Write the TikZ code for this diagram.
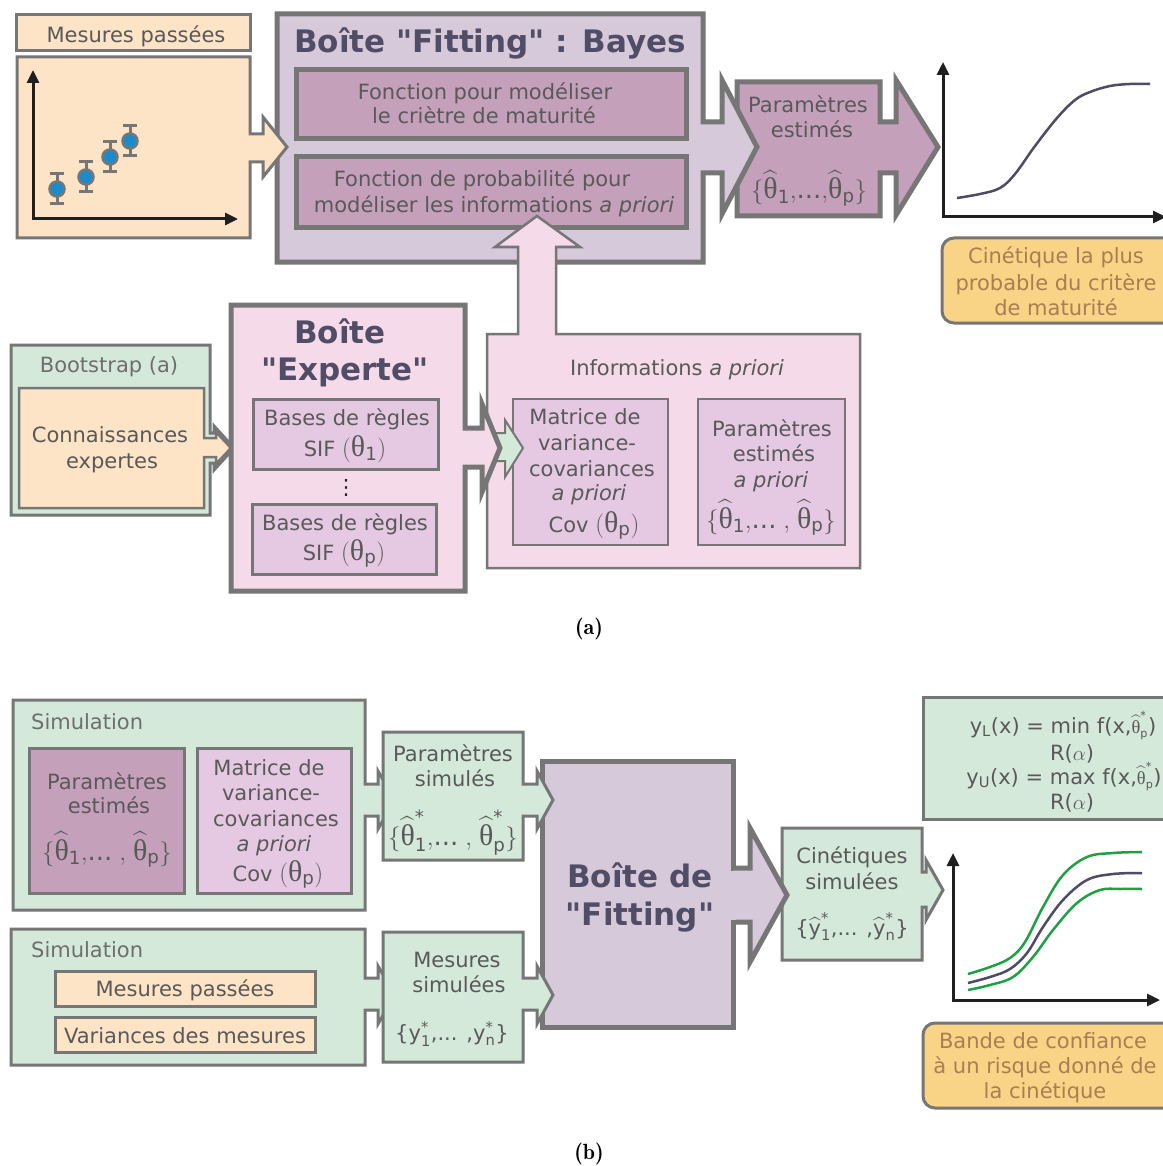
\documentclass[tikz,border=0pt]{standalone}
\usepackage{amsmath}
\usepackage{fontspec}
\newfontfamily\dv{DejaVu Sans}
\newfontfamily\lser{Liberation Serif}
\usetikzlibrary{arrows.meta}
\definecolor{bgray}{HTML}{767676}
\definecolor{peach}{HTML}{FDE4C7}
\definecolor{lmauve}{HTML}{D6C9D9}
\definecolor{dmauve}{HTML}{C4A0BA}
\definecolor{lpink}{HTML}{F5DAE9}
\definecolor{lpurple}{HTML}{E5C8E2}
\definecolor{lgreen}{HTML}{D4E9DA}
\definecolor{orangebox}{HTML}{F9D386}
\definecolor{txtgray}{HTML}{595959}
\definecolor{lblgray}{HTML}{6E6E6E}
\definecolor{titlec}{HTML}{514D66}
\definecolor{brownt}{HTML}{A87E52}
\definecolor{axisc}{HTML}{1F1F1F}
\definecolor{curvec}{HTML}{4F4B66}
\definecolor{greenc}{HTML}{1EA043}
\definecolor{dotblue}{HTML}{1B8CC9}
\newcommand\dq{\XeTeXglyph\XeTeXcharglyph"22\relax}
\newcommand\mth[1]{{\fontsize{26}{30}\selectfont$#1$}}
\newcommand\thx{\text{\lser\scalebox{1.15}{θ}}}
\newcommand\hth{\widehat{\thx}}
\tikzset{
 thickb/.style={draw=bgray,line width=5pt},
 thinb/.style={draw=bgray,line width=3pt},
 finb/.style={draw=bgray,line width=2.5pt},
 txt/.style={font=\dv\fontsize{21}{25}\selectfont,text=txtgray,inner sep=0pt,anchor=base},
 lbl/.style={txt,text=lblgray},
 ttl/.style={font=\dv\bfseries\fontsize{31}{37}\selectfont,text=titlec,inner sep=0pt,anchor=base},
 brn/.style={txt,text=brownt},
 capt/.style={font=\fontseries{b}\selectfont\fontsize{22}{26}\selectfont,text=black,inner sep=0pt,anchor=base},
 axis/.style={draw=axisc,line width=3pt,-{Triangle[length=13pt,width=12pt]}},
 errb/.style={draw=bgray,line width=3pt},
 dotp/.style={fill=dotblue,draw=bgray,line width=2.5pt},
 curve/.style={line width=2.5pt},
}
\begin{document}
\begin{tikzpicture}[x=1pt,y=-1pt,line join=miter]
\useasboundingbox (0,0) rectangle (1162,1166);
\fill[white] (0,0) rectangle (1162,1166);

%% ================= (a) =================
\draw[thinb,fill=peach] (16,15) rectangle (250,51);
\draw[thickb,fill=dmauve] (737,82) -- (880,82) -- (880,122) -- (896,122) -- (896,80) -- (938,147) -- (896,215) -- (896,173) -- (880,173) -- (880,216) -- (737,216) -- cycle;
\draw[thickb,fill=lmauve] (277,14) -- (703,14) -- (703,122) -- (722,122) -- (722,80) -- (757,147) -- (722,214) -- (722,173) -- (703,173) -- (703,262) -- (277,262) -- cycle;
\draw[thickb,fill=dmauve] (296,70) rectangle (686,139);
\draw[thickb,fill=dmauve] (296,157) rectangle (686,228);
\draw[thinb,fill=peach] (17,57) -- (250,57) -- (250,134) -- (263,134) -- (263,117) -- (287,147) -- (263,177) -- (263,162) -- (250,162) -- (250,238) -- (17,238) -- cycle;
\draw[axis] (33,219) -- (33,70);
\draw[axis] (31.5,219) -- (238,219);
\foreach \px/\py in {57/189,86/177,110/157,130/141}{
  \draw[errb] (\px,\py-15) -- (\px,\py+15);
  \draw[errb] (\px-7,\py-15) -- (\px+7,\py-15);
  \draw[errb] (\px-7,\py+15) -- (\px+7,\py+15);
  \filldraw[dotp] (\px,\py) circle (7.5pt);
}
\draw[finb,fill=lpink] (487,334) -- (518,334) -- (518,247) -- (495,247) -- (537,216) -- (580,247) -- (556,247) -- (556,334) -- (860,334) -- (860,568) -- (487,568) -- cycle;
\draw[finb,fill=lpurple] (513,399) rectangle (668,545);
\draw[finb,fill=lpurple] (698,399) rectangle (845,545);
\draw[draw=bgray,line width=2pt,fill=lgreen] (490,433) -- (505,433) -- (505,420) -- (523,448) -- (505,477) -- (505,461) -- (490,461) -- cycle;
\draw[thinb,fill=lgreen] (11,345) -- (210,345) -- (210,433) -- (214,433) -- (214,426) -- (234,448) -- (214,470) -- (214,463) -- (210,463) -- (210,515) -- (11,515) -- cycle;
\draw[finb,fill=peach] (19,388) -- (204,388) -- (204,438) -- (216,438) -- (216,432) -- (231,448) -- (216,464) -- (216,457) -- (204,457) -- (204,508) -- (19,508) -- cycle;
\draw[thickb,fill=lpink] (231,305) -- (465,305) -- (465,428) -- (482,428) -- (482,404) -- (500,448) -- (482,492) -- (482,467) -- (465,467) -- (465,591) -- (231,591) -- cycle;
\draw[thinb,fill=lpurple] (253,399) rectangle (438,469);
\draw[thinb,fill=lpurple] (252,504) rectangle (436,574);
\draw[axis] (943,217) -- (943,62);
\draw[axis] (941.5,217) -- (1166,217);
\draw[curve,draw=curvec] plot[smooth,tension=0.6] coordinates {(957,198) (980,194) (1000,188) (1015,174) (1035,146) (1057,118) (1075,100) (1090,92) (1110,86) (1130,84) (1150,84)};
\draw[thinb,fill=orangebox,rounded corners=12pt] (942,238) rectangle (1190,323);

\node[txt] (tMP) at (136,43) {Mesures passées};
\node[ttl] (tFit) at (490,53) {Boîte \dq Fitting\dq{} : Bayes};
\node[txt] (tF1) at (485,100) {Fonction pour modéliser};
\node[txt] (tF2) at (484,124) {le criètre de maturité};
\node[txt] (tF3) at (482,187) {Fonction de probabilité pour};
\node[txt] (tF4) at (494,213) {modéliser les informations \textit{a priori}};
\node[txt] (tPE1) at (808,113) {Paramètres};
\node[txt] (tPE2) at (812,138) {estimés};
\node[txt] (tPE3) at (809,199) {\mth{\{\hth_{\text{1}}{,}\text{...}{,}\hth_{\text{p}}\}}};
\node[brn] (tC1) at (1056,263) {Cinétique la plus};
\node[brn] (tC2) at (1056,290) {probable du critère};
\node[brn] (tC3) at (1056,315) {de maturité};
\node[lbl] (tBoot) at (109,372) {Bootstrap (a)};
\node[txt] (tCo1) at (110,442) {Connaissances};
\node[txt] (tCo2) at (112,468) {expertes};
\node[ttl] (tEx1) at (340,343) {Boîte};
\node[ttl] (tEx2) at (345,380) {\dq Experte\dq};
\node[txt] (tB1) at (347,425) {Bases de règles};
\node[txt] (tS1) at (345,456) {SIF \mth{(\thx_{\text{1}})}};
\node[txt,anchor=center,text=axisc] (tDots) at (346,488) {⋮};
\node[txt] (tB2) at (345,530) {Bases de règles};
\node[txt] (tS2) at (344,560) {SIF \mth{(\thx_{\text{p}})}};
\node[txt] (tInfo) at (677,375) {Informations \textit{a priori}};
\node[txt] (tM1) at (585,424) {Matrice de};
\node[txt] (tM2) at (587,450) {variance-};
\node[txt] (tM3) at (592,476) {covariances};
\node[txt] (tM4) at (589,500) {\textit{a priori}};
\node[txt] (tM5) at (594,532) {Cov \mth{(\thx_{\text{p}})}};
\node[txt] (tP1) at (772,436) {Paramètres};
\node[txt] (tP2) at (774,461) {estimés};
\node[txt] (tP3) at (771,487) {\textit{a priori}};
\node[txt] (tP4) at (771,528) {\mth{\{\hth_{\text{1}}{,}\text{...}\;{,}\;\hth_{\text{p}}\}}};
\node[capt] (capa) at (589,634) {(a)};

%% ================= (b) =================
\draw[thickb,fill=lmauve] (542,761) rectangle (733,1027);
\draw[thinb,fill=lgreen] (13,700) -- (365,700) -- (365,784) -- (378,784) -- (378,771) -- (395,800) -- (378,829) -- (378,816) -- (365,816) -- (365,910) -- (13,910) -- cycle;
\draw[thinb,fill=dmauve] (29,748) rectangle (184,893);
\draw[thinb,fill=lpurple] (197,748) rectangle (351,893);
\draw[thinb,fill=lgreen] (383,732) -- (523,732) -- (523,784) -- (537,784) -- (537,771) -- (553,800) -- (537,829) -- (537,816) -- (523,816) -- (523,860) -- (383,860) -- cycle;
\draw[thinb,fill=lgreen] (11,929) -- (365,929) -- (365,978) -- (378,978) -- (378,966) -- (395,995) -- (378,1024) -- (378,1010) -- (365,1010) -- (365,1065) -- (11,1065) -- cycle;
\draw[thinb,fill=peach] (55,971) rectangle (315,1006);
\draw[thinb,fill=peach] (55,1017) rectangle (315,1052);
\draw[thinb,fill=lgreen] (383,932) -- (523,932) -- (523,978) -- (537,978) -- (537,966) -- (553,995) -- (537,1024) -- (537,1010) -- (523,1010) -- (523,1062) -- (383,1062) -- cycle;
\draw[thinb,fill=lgreen] (782,828) -- (922,828) -- (922,872) -- (926,872) -- (926,860) -- (943,890) -- (926,920) -- (926,907) -- (922,907) -- (922,960) -- (782,960) -- cycle;
\draw[thickb,fill=lmauve] (733,868) -- (750,868) -- (750,828) -- (787,895) -- (750,962) -- (750,922) -- (733,922);
\fill[lmauve] (729,870.5) rectangle (736,919.5);
\draw[thinb,fill=lgreen] (923,697) rectangle (1190,819);
\draw[thinb,fill=orangebox,rounded corners=12pt] (923,1023) rectangle (1190,1108);
\draw[axis] (953,1000) -- (953,853);
\draw[axis] (951.5,1000) -- (1160,1000);
\draw[curve,draw=greenc] plot[smooth,tension=0.6] coordinates {(968,974) (990,967) (1010,958) (1025,942) (1043,907) (1063,875) (1087,857) (1113,853) (1142,852)};
\draw[curve,draw=curvec] plot[smooth,tension=0.6] coordinates {(968,983) (990,977) (1010,969) (1027,953) (1043,927) (1063,900) (1087,880) (1113,874) (1142,873)};
\draw[curve,draw=greenc] plot[smooth,tension=0.6] coordinates {(968,990) (990,985) (1013,977) (1033,957) (1053,930) (1077,903) (1100,890) (1120,889) (1142,889)};

\node[lbl,anchor=base west] (tSim1) at (31,729) {Simulation};
\node[txt] (tQ1) at (107,789) {Paramètres};
\node[txt] (tQ2) at (109,813) {estimés};
\node[txt] (tQ3) at (107,860) {\mth{\{\hth_{\text{1}}{,}\text{...}\;{,}\;\hth_{\text{p}}\}}};
\node[txt] (tN1) at (269,775) {Matrice de};
\node[txt] (tN2) at (271,800) {variance-};
\node[txt] (tN3) at (276,826) {covariances};
\node[txt] (tN4) at (274,851) {\textit{a priori}};
\node[txt] (tN5) at (278,881) {Cov \mth{(\thx_{\text{p}})}};
\node[txt] (tR1) at (453,761) {Paramètres};
\node[txt] (tR2) at (455,786) {simulés};
\node[txt] (tR3) at (453,845) {\mth{\{\hth^{\text{*}}_{\text{1}}{,}\text{...}\;{,}\;\hth^{\text{*}}_{\text{p}}\}}};
\node[lbl,anchor=base west] (tSim2) at (31,957) {Simulation};
\node[txt] (tMPb) at (185,996) {Mesures passées};
\node[txt] (tVM) at (185,1043) {Variances des mesures};
\node[txt] (tS1b) at (457,967) {Mesures};
\node[txt] (tS2b) at (459,992) {simulées};
\node[txt] (tS3b) at (452,1040) {\{y$^{\text{*}}_{\text{1}}$,... ,y$^{\text{*}}_{\text{n}}$\}};
\node[ttl] (tBF1) at (640,887) {Boîte de};
\node[ttl] (tBF2) at (640,925) {\dq Fitting\dq};
\node[txt] (tK1) at (852,863) {Cinétiques};
\node[txt] (tK2) at (852,889) {simulées};
\node[txt] (tK3) at (852,935) {\{$\widehat{\text{y}}^{\text{*}}_{\text{1}}$,... ,$\widehat{\text{y}}^{\text{*}}_{\text{n}}$\}};
\node[txt] (tE1) at (1063,733) {y$_{\text{L}}$(x) = min f(x,{\fontsize{16}{20}\selectfont$\hth^{\text{*}}_{\text{p}}$})};
\node[txt] (tE2) at (1072,760) {R($\alpha$)};
\node[txt] (tE3) at (1064,784) {y$_{\text{U}}$(x) = max f(x,{\fontsize{16}{20}\selectfont$\hth^{\text{*}}_{\text{p}}$})};
\node[txt] (tE4) at (1072,809) {R($\alpha$)};
\node[brn] (tBd1) at (1043,1048) {Bande de confiance};
\node[brn] (tBd2) at (1045,1073) {à un risque donné de};
\node[brn] (tBd3) at (1045,1098) {la cinétique};
\node[capt] (capb) at (589,1159) {(b)};
\end{tikzpicture}
\end{document}
